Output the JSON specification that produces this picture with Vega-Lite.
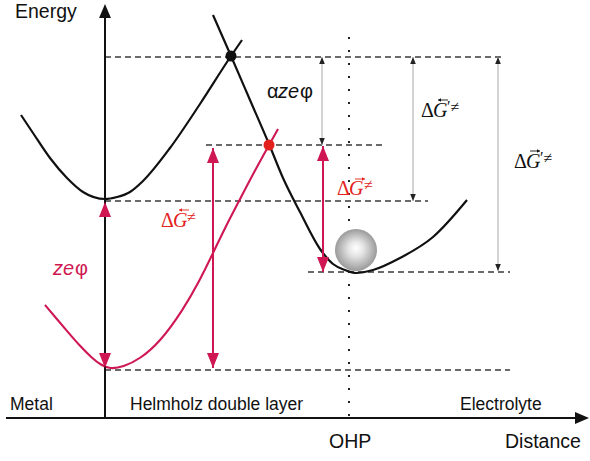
{
  "$schema": "https://vega.github.io/schema/vega-lite/v6.json",
  "width": 590,
  "height": 461,
  "padding": 0,
  "autosize": {"type": "fit", "contains": "padding"},
  "background": "white",
  "config": {"view": {"stroke": null}},
  "datasets": {
    "curves": [
      {"c": "A", "tone": "ink", "x": 21, "y": 115},
      {"c": "A", "tone": "ink", "x": 33, "y": 133},
      {"c": "A", "tone": "ink", "x": 50, "y": 158},
      {"c": "A", "tone": "ink", "x": 67, "y": 178},
      {"c": "A", "tone": "ink", "x": 83, "y": 192},
      {"c": "A", "tone": "ink", "x": 105, "y": 199},
      {"c": "A", "tone": "ink", "x": 117, "y": 197},
      {"c": "A", "tone": "ink", "x": 130, "y": 192},
      {"c": "A", "tone": "ink", "x": 143, "y": 181},
      {"c": "A", "tone": "ink", "x": 170, "y": 148},
      {"c": "A", "tone": "ink", "x": 200, "y": 104},
      {"c": "A", "tone": "ink", "x": 231, "y": 56},
      {"c": "A", "tone": "ink", "x": 242, "y": 40},
      {"c": "B", "tone": "ink", "x": 213, "y": 15},
      {"c": "B", "tone": "ink", "x": 231, "y": 56},
      {"c": "B", "tone": "ink", "x": 250, "y": 100},
      {"c": "B", "tone": "ink", "x": 269, "y": 144},
      {"c": "B", "tone": "ink", "x": 283, "y": 178},
      {"c": "B", "tone": "ink", "x": 300, "y": 212},
      {"c": "B", "tone": "ink", "x": 320, "y": 249},
      {"c": "B", "tone": "ink", "x": 333, "y": 264},
      {"c": "B", "tone": "ink", "x": 345, "y": 270},
      {"c": "B", "tone": "ink", "x": 356, "y": 273},
      {"c": "B", "tone": "ink", "x": 373, "y": 270},
      {"c": "B", "tone": "ink", "x": 400, "y": 258},
      {"c": "B", "tone": "ink", "x": 433, "y": 237},
      {"c": "B", "tone": "ink", "x": 467, "y": 200},
      {"c": "C", "tone": "crimson", "x": 45, "y": 305},
      {"c": "C", "tone": "crimson", "x": 56, "y": 318},
      {"c": "C", "tone": "crimson", "x": 67, "y": 331},
      {"c": "C", "tone": "crimson", "x": 80, "y": 346},
      {"c": "C", "tone": "crimson", "x": 92, "y": 358},
      {"c": "C", "tone": "crimson", "x": 101, "y": 365},
      {"c": "C", "tone": "crimson", "x": 110, "y": 369},
      {"c": "C", "tone": "crimson", "x": 123, "y": 367},
      {"c": "C", "tone": "crimson", "x": 140, "y": 359},
      {"c": "C", "tone": "crimson", "x": 160, "y": 342},
      {"c": "C", "tone": "crimson", "x": 183, "y": 310},
      {"c": "C", "tone": "crimson", "x": 200, "y": 280},
      {"c": "C", "tone": "crimson", "x": 213, "y": 253},
      {"c": "C", "tone": "crimson", "x": 225, "y": 228},
      {"c": "C", "tone": "crimson", "x": 238, "y": 203},
      {"c": "C", "tone": "crimson", "x": 253, "y": 174},
      {"c": "C", "tone": "crimson", "x": 269, "y": 145},
      {"c": "C", "tone": "crimson", "x": 278, "y": 129}
    ],
    "levels": [
      {"x1": 105, "x2": 502, "y": 57},
      {"x1": 206, "x2": 382, "y": 145},
      {"x1": 105, "x2": 428, "y": 201},
      {"x1": 308, "x2": 510, "y": 272},
      {"x1": 105, "x2": 510, "y": 370}
    ],
    "ohp": [{"x": 349, "y1": 37, "y2": 416}],
    "arrows": [
      {"n": "zephi", "tone": "crimson", "x": 105, "y1": 202, "y2": 368},
      {"n": "dGback", "tone": "crimson", "x": 213, "y1": 148, "y2": 368},
      {"n": "dGfwd", "tone": "crimson", "x": 323, "y1": 146, "y2": 272},
      {"n": "azephi", "tone": "gray", "x": 322, "y1": 57, "y2": 145},
      {"n": "dGpback", "tone": "gray", "x": 413, "y1": 57, "y2": 201},
      {"n": "dGpfwd", "tone": "gray", "x": 498, "y1": 57, "y2": 271}
    ],
    "overArrows": [
      {"tone": "red", "dir": "left", "x1": 179, "x2": 189, "y": 210},
      {"tone": "red", "dir": "right", "x1": 355, "x2": 365, "y": 179},
      {"tone": "ink", "dir": "left", "x1": 438, "x2": 448, "y": 100},
      {"tone": "ink", "dir": "right", "x1": 530, "x2": 540, "y": 151}
    ],
    "axes": [
      {"x": 105, "y": 418, "x2": 105, "y2": 12},
      {"x": 6, "y": 418, "x2": 582, "y2": 418}
    ],
    "axisHeads": [
      {"dir": "up", "x": 105, "y": 4},
      {"dir": "right", "x": 589, "y": 418}
    ],
    "dots": [
      {"tone": "ink", "x": 231, "y": 56},
      {"tone": "red", "x": 269, "y": 145}
    ],
    "ball": [{"x": 356, "y": 250}],
    "labels": [
      {"k": "big", "tone": "ink", "t": "Energy", "x": 15, "y": 18},
      {"k": "big", "tone": "ink", "t": "OHP", "x": 329, "y": 448},
      {"k": "big", "tone": "ink", "t": "Distance", "x": 505, "y": 448},
      {"k": "mid", "tone": "ink", "t": "Metal", "x": 10, "y": 410},
      {"k": "mid", "tone": "ink", "t": "Helmholz double layer", "x": 130, "y": 410},
      {"k": "mid", "tone": "ink", "t": "Electrolyte", "x": 460, "y": 410},
      {"k": "gk", "tone": "ink", "t": "α", "x": 267, "y": 98},
      {"k": "it", "tone": "ink", "t": "ze", "x": 278, "y": 98},
      {"k": "gk", "tone": "ink", "t": "φ", "x": 300, "y": 98},
      {"k": "it", "tone": "crimson", "t": "ze", "x": 53, "y": 275},
      {"k": "gk", "tone": "crimson", "t": "φ", "x": 75, "y": 275},
      {"k": "delta", "tone": "red", "t": "Δ", "x": 161, "y": 227},
      {"k": "G", "tone": "red", "t": "G", "x": 173, "y": 227},
      {"k": "sup", "tone": "red", "t": "≠", "x": 187, "y": 222},
      {"k": "delta", "tone": "red", "t": "Δ", "x": 337, "y": 195},
      {"k": "G", "tone": "red", "t": "G", "x": 349, "y": 195},
      {"k": "sup", "tone": "red", "t": "≠", "x": 364, "y": 190},
      {"k": "delta", "tone": "ink", "t": "Δ", "x": 421, "y": 117},
      {"k": "G", "tone": "ink", "t": "G", "x": 433, "y": 117},
      {"k": "sup", "tone": "ink", "t": "′≠", "x": 447, "y": 112},
      {"k": "delta", "tone": "ink", "t": "Δ", "x": 514, "y": 168},
      {"k": "G", "tone": "ink", "t": "G", "x": 526, "y": 168},
      {"k": "sup", "tone": "ink", "t": "′≠", "x": 540, "y": 163}
    ]
  },
  "layer": [
    {
      "data": {"name": "levels"},
      "mark": {"type": "rule", "stroke": "#3a3a3a", "strokeWidth": 1.3, "strokeDash": [6, 4]},
      "encoding": {
        "x": {"field": "x1", "type": "quantitative", "scale": {"domain": [0, 590], "nice": false, "zero": false}, "axis": null},
        "x2": {"field": "x2"},
        "y": {"field": "y", "type": "quantitative", "scale": {"domain": [0, 461], "reverse": true, "nice": false, "zero": false}, "axis": null}
      }
    },
    {
      "data": {"name": "ohp"},
      "mark": {"type": "rule", "stroke": "#222222", "strokeWidth": 2, "strokeDash": [2, 11]},
      "encoding": {
        "x": {"field": "x", "type": "quantitative", "scale": {"domain": [0, 590], "nice": false, "zero": false}, "axis": null},
        "y": {"field": "y1", "type": "quantitative", "scale": {"domain": [0, 461], "reverse": true, "nice": false, "zero": false}, "axis": null},
        "y2": {"field": "y2"}
      }
    },
    {
      "data": {"name": "arrows"},
      "transform": [{"filter": "datum.tone === 'gray'"}],
      "mark": {"type": "rule", "stroke": "#b0b0b0", "strokeWidth": 1.1},
      "encoding": {
        "x": {"field": "x", "type": "quantitative", "scale": {"domain": [0, 590], "nice": false, "zero": false}, "axis": null},
        "y": {"field": "y1", "type": "quantitative", "scale": {"domain": [0, 461], "reverse": true, "nice": false, "zero": false}, "axis": null},
        "y2": {"field": "y2"}
      }
    },
    {
      "data": {"name": "curves"},
      "transform": [{"filter": "datum.tone === 'ink'"}],
      "mark": {"type": "line", "strokeWidth": 2.2, "interpolate": "monotone", "color": "#111111"},
      "encoding": {
        "x": {"field": "x", "type": "quantitative", "scale": {"domain": [0, 590], "nice": false, "zero": false}, "axis": null},
        "y": {"field": "y", "type": "quantitative", "scale": {"domain": [0, 461], "reverse": true, "nice": false, "zero": false}, "axis": null},
        "detail": {"field": "c"}
      }
    },
    {
      "data": {"name": "curves"},
      "transform": [{"filter": "datum.tone === 'crimson'"}],
      "mark": {"type": "line", "strokeWidth": 2.1, "interpolate": "basis", "color": "#cf1853"},
      "encoding": {
        "x": {"field": "x", "type": "quantitative", "scale": {"domain": [0, 590], "nice": false, "zero": false}, "axis": null},
        "y": {"field": "y", "type": "quantitative", "scale": {"domain": [0, 461], "reverse": true, "nice": false, "zero": false}, "axis": null},
        "detail": {"field": "c"}
      }
    },
    {
      "data": {"name": "arrows"},
      "transform": [{"filter": "datum.tone === 'crimson'"}],
      "mark": {"type": "rule", "stroke": "#cf1853", "strokeWidth": 2},
      "encoding": {
        "x": {"field": "x", "type": "quantitative", "scale": {"domain": [0, 590], "nice": false, "zero": false}, "axis": null},
        "y": {"field": "y1", "type": "quantitative", "scale": {"domain": [0, 461], "reverse": true, "nice": false, "zero": false}, "axis": null},
        "y2": {"field": "y2"}
      }
    },
    {
      "data": {"name": "axes"},
      "mark": {"type": "rule", "stroke": "#111111", "strokeWidth": 2},
      "encoding": {
        "x": {"field": "x", "type": "quantitative", "scale": {"domain": [0, 590], "nice": false, "zero": false}, "axis": null},
        "x2": {"field": "x2"},
        "y": {"field": "y", "type": "quantitative", "scale": {"domain": [0, 461], "reverse": true, "nice": false, "zero": false}, "axis": null},
        "y2": {"field": "y2"}
      }
    },
    {
      "data": {"name": "axisHeads"},
      "mark": {"type": "point", "filled": true, "opacity": 1, "size": 196, "color": "#111111", "strokeWidth": 0},
      "encoding": {
        "x": {"field": "x", "type": "quantitative", "scale": {"domain": [0, 590], "nice": false, "zero": false}, "axis": null},
        "y": {"field": "y", "type": "quantitative", "scale": {"domain": [0, 461], "reverse": true, "nice": false, "zero": false}, "axis": null},
        "shape": {"field": "dir", "type": "nominal", "scale": {"domain": ["up", "right"], "range": ["M0,0L-0.85,2L0.85,2Z", "M0,0L-2,-0.85L-2,0.85Z"]}, "legend": null}
      }
    },
    {
      "data": {"name": "arrows"},
      "transform": [{"filter": "datum.tone === 'crimson'"}],
      "mark": {"type": "point", "filled": true, "opacity": 1, "size": 225, "color": "#cf1853", "strokeWidth": 0, "shape": "M0,0L-0.8,2L0.8,2Z"},
      "encoding": {
        "x": {"field": "x", "type": "quantitative", "scale": {"domain": [0, 590], "nice": false, "zero": false}, "axis": null},
        "y": {"field": "y1", "type": "quantitative", "scale": {"domain": [0, 461], "reverse": true, "nice": false, "zero": false}, "axis": null}
      }
    },
    {
      "data": {"name": "arrows"},
      "transform": [{"filter": "datum.tone === 'crimson'"}],
      "mark": {"type": "point", "filled": true, "opacity": 1, "size": 225, "color": "#cf1853", "strokeWidth": 0, "shape": "M0,0L-0.8,-2L0.8,-2Z"},
      "encoding": {
        "x": {"field": "x", "type": "quantitative", "scale": {"domain": [0, 590], "nice": false, "zero": false}, "axis": null},
        "y": {"field": "y2", "type": "quantitative", "scale": {"domain": [0, 461], "reverse": true, "nice": false, "zero": false}, "axis": null}
      }
    },
    {
      "data": {"name": "arrows"},
      "transform": [{"filter": "datum.tone === 'gray'"}],
      "mark": {"type": "point", "filled": true, "opacity": 1, "size": 49, "color": "#222222", "strokeWidth": 0, "shape": "M0,0L-0.8,2L0.8,2Z"},
      "encoding": {
        "x": {"field": "x", "type": "quantitative", "scale": {"domain": [0, 590], "nice": false, "zero": false}, "axis": null},
        "y": {"field": "y1", "type": "quantitative", "scale": {"domain": [0, 461], "reverse": true, "nice": false, "zero": false}, "axis": null}
      }
    },
    {
      "data": {"name": "arrows"},
      "transform": [{"filter": "datum.tone === 'gray'"}],
      "mark": {"type": "point", "filled": true, "opacity": 1, "size": 49, "color": "#222222", "strokeWidth": 0, "shape": "M0,0L-0.8,-2L0.8,-2Z"},
      "encoding": {
        "x": {"field": "x", "type": "quantitative", "scale": {"domain": [0, 590], "nice": false, "zero": false}, "axis": null},
        "y": {"field": "y2", "type": "quantitative", "scale": {"domain": [0, 461], "reverse": true, "nice": false, "zero": false}, "axis": null}
      }
    },
    {
      "data": {"name": "overArrows"},
      "mark": {"type": "rule", "strokeWidth": 0.9},
      "encoding": {
        "x": {"field": "x1", "type": "quantitative", "scale": {"domain": [0, 590], "nice": false, "zero": false}, "axis": null},
        "x2": {"field": "x2"},
        "y": {"field": "y", "type": "quantitative", "scale": {"domain": [0, 461], "reverse": true, "nice": false, "zero": false}, "axis": null},
        "color": {"field": "tone", "type": "nominal", "scale": {"domain": ["ink", "crimson", "red", "gray"], "range": ["#111111", "#cf1853", "#e3211c", "#b8b8b8"]}, "legend": null}
      }
    },
    {
      "data": {"name": "overArrows"},
      "transform": [{"filter": "datum.dir === 'left'"}],
      "mark": {"type": "point", "filled": true, "opacity": 1, "size": 9, "strokeWidth": 0, "shape": "M0,0L2,-1.1L2,1.1Z"},
      "encoding": {
        "x": {"field": "x1", "type": "quantitative", "scale": {"domain": [0, 590], "nice": false, "zero": false}, "axis": null},
        "y": {"field": "y", "type": "quantitative", "scale": {"domain": [0, 461], "reverse": true, "nice": false, "zero": false}, "axis": null},
        "color": {"field": "tone", "type": "nominal", "scale": {"domain": ["ink", "crimson", "red", "gray"], "range": ["#111111", "#cf1853", "#e3211c", "#b8b8b8"]}, "legend": null}
      }
    },
    {
      "data": {"name": "overArrows"},
      "transform": [{"filter": "datum.dir === 'right'"}],
      "mark": {"type": "point", "filled": true, "opacity": 1, "size": 9, "strokeWidth": 0, "shape": "M0,0L-2,-1.1L-2,1.1Z"},
      "encoding": {
        "x": {"field": "x2", "type": "quantitative", "scale": {"domain": [0, 590], "nice": false, "zero": false}, "axis": null},
        "y": {"field": "y", "type": "quantitative", "scale": {"domain": [0, 461], "reverse": true, "nice": false, "zero": false}, "axis": null},
        "color": {"field": "tone", "type": "nominal", "scale": {"domain": ["ink", "crimson", "red", "gray"], "range": ["#111111", "#cf1853", "#e3211c", "#b8b8b8"]}, "legend": null}
      }
    },
    {
      "data": {"name": "dots"},
      "mark": {"type": "point", "shape": "circle", "filled": true, "opacity": 1, "size": 121, "strokeWidth": 0},
      "encoding": {
        "x": {"field": "x", "type": "quantitative", "scale": {"domain": [0, 590], "nice": false, "zero": false}, "axis": null},
        "y": {"field": "y", "type": "quantitative", "scale": {"domain": [0, 461], "reverse": true, "nice": false, "zero": false}, "axis": null},
        "color": {"field": "tone", "type": "nominal", "scale": {"domain": ["ink", "crimson", "red", "gray"], "range": ["#111111", "#cf1853", "#e3211c", "#b8b8b8"]}, "legend": null}
      }
    },
    {
      "data": {"name": "ball"},
      "mark": {"type": "point", "shape": "circle", "filled": true, "opacity": 1, "size": 1764, "strokeWidth": 0,
        "fill": {"gradient": "radial", "x1": 0.5, "y1": 0.45, "r1": 0, "x2": 0.5, "y2": 0.5, "r2": 0.5,
          "stops": [{"offset": 0, "color": "#ffffff"}, {"offset": 0.35, "color": "#e6e6e6"}, {"offset": 1, "color": "#9a9a9a"}]}},
      "encoding": {
        "x": {"field": "x", "type": "quantitative", "scale": {"domain": [0, 590], "nice": false, "zero": false}, "axis": null},
        "y": {"field": "y", "type": "quantitative", "scale": {"domain": [0, 461], "reverse": true, "nice": false, "zero": false}, "axis": null}
      }
    },
    {
      "data": {"name": "labels"},
      "transform": [{"filter": "datum.k === 'big'"}],
      "mark": {"type": "text", "font": "Liberation Sans", "fontSize": 19.5, "align": "left", "baseline": "alphabetic", "color": "#111111"},
      "encoding": {
        "x": {"field": "x", "type": "quantitative", "scale": {"domain": [0, 590], "nice": false, "zero": false}, "axis": null},
        "y": {"field": "y", "type": "quantitative", "scale": {"domain": [0, 461], "reverse": true, "nice": false, "zero": false}, "axis": null},
        "text": {"field": "t"}
      }
    },
    {
      "data": {"name": "labels"},
      "transform": [{"filter": "datum.k === 'mid'"}],
      "mark": {"type": "text", "font": "Liberation Sans", "fontSize": 17.5, "align": "left", "baseline": "alphabetic", "color": "#111111"},
      "encoding": {
        "x": {"field": "x", "type": "quantitative", "scale": {"domain": [0, 590], "nice": false, "zero": false}, "axis": null},
        "y": {"field": "y", "type": "quantitative", "scale": {"domain": [0, 461], "reverse": true, "nice": false, "zero": false}, "axis": null},
        "text": {"field": "t"}
      }
    },
    {
      "data": {"name": "labels"},
      "transform": [{"filter": "datum.k === 'gk'"}],
      "mark": {"type": "text", "font": "Liberation Sans", "fontSize": 20, "align": "left", "baseline": "alphabetic"},
      "encoding": {
        "x": {"field": "x", "type": "quantitative", "scale": {"domain": [0, 590], "nice": false, "zero": false}, "axis": null},
        "y": {"field": "y", "type": "quantitative", "scale": {"domain": [0, 461], "reverse": true, "nice": false, "zero": false}, "axis": null},
        "text": {"field": "t"},
        "color": {"field": "tone", "type": "nominal", "scale": {"domain": ["ink", "crimson", "red", "gray"], "range": ["#111111", "#cf1853", "#e3211c", "#b8b8b8"]}, "legend": null}
      }
    },
    {
      "data": {"name": "labels"},
      "transform": [{"filter": "datum.k === 'it'"}],
      "mark": {"type": "text", "font": "Liberation Sans", "fontSize": 20, "fontStyle": "italic", "align": "left", "baseline": "alphabetic"},
      "encoding": {
        "x": {"field": "x", "type": "quantitative", "scale": {"domain": [0, 590], "nice": false, "zero": false}, "axis": null},
        "y": {"field": "y", "type": "quantitative", "scale": {"domain": [0, 461], "reverse": true, "nice": false, "zero": false}, "axis": null},
        "text": {"field": "t"},
        "color": {"field": "tone", "type": "nominal", "scale": {"domain": ["ink", "crimson", "red", "gray"], "range": ["#111111", "#cf1853", "#e3211c", "#b8b8b8"]}, "legend": null}
      }
    },
    {
      "data": {"name": "labels"},
      "transform": [{"filter": "datum.k === 'delta'"}],
      "mark": {"type": "text", "font": "Liberation Serif", "fontSize": 20, "align": "left", "baseline": "alphabetic"},
      "encoding": {
        "x": {"field": "x", "type": "quantitative", "scale": {"domain": [0, 590], "nice": false, "zero": false}, "axis": null},
        "y": {"field": "y", "type": "quantitative", "scale": {"domain": [0, 461], "reverse": true, "nice": false, "zero": false}, "axis": null},
        "text": {"field": "t"},
        "color": {"field": "tone", "type": "nominal", "scale": {"domain": ["ink", "crimson", "red", "gray"], "range": ["#111111", "#cf1853", "#e3211c", "#b8b8b8"]}, "legend": null}
      }
    },
    {
      "data": {"name": "labels"},
      "transform": [{"filter": "datum.k === 'G'"}],
      "mark": {"type": "text", "font": "Liberation Serif", "fontSize": 20, "fontStyle": "italic", "align": "left", "baseline": "alphabetic"},
      "encoding": {
        "x": {"field": "x", "type": "quantitative", "scale": {"domain": [0, 590], "nice": false, "zero": false}, "axis": null},
        "y": {"field": "y", "type": "quantitative", "scale": {"domain": [0, 461], "reverse": true, "nice": false, "zero": false}, "axis": null},
        "text": {"field": "t"},
        "color": {"field": "tone", "type": "nominal", "scale": {"domain": ["ink", "crimson", "red", "gray"], "range": ["#111111", "#cf1853", "#e3211c", "#b8b8b8"]}, "legend": null}
      }
    },
    {
      "data": {"name": "labels"},
      "transform": [{"filter": "datum.k === 'sup'"}],
      "mark": {"type": "text", "font": "Liberation Serif", "fontSize": 16, "align": "left", "baseline": "alphabetic"},
      "encoding": {
        "x": {"field": "x", "type": "quantitative", "scale": {"domain": [0, 590], "nice": false, "zero": false}, "axis": null},
        "y": {"field": "y", "type": "quantitative", "scale": {"domain": [0, 461], "reverse": true, "nice": false, "zero": false}, "axis": null},
        "text": {"field": "t"},
        "color": {"field": "tone", "type": "nominal", "scale": {"domain": ["ink", "crimson", "red", "gray"], "range": ["#111111", "#cf1853", "#e3211c", "#b8b8b8"]}, "legend": null}
      }
    }
  ]
}
